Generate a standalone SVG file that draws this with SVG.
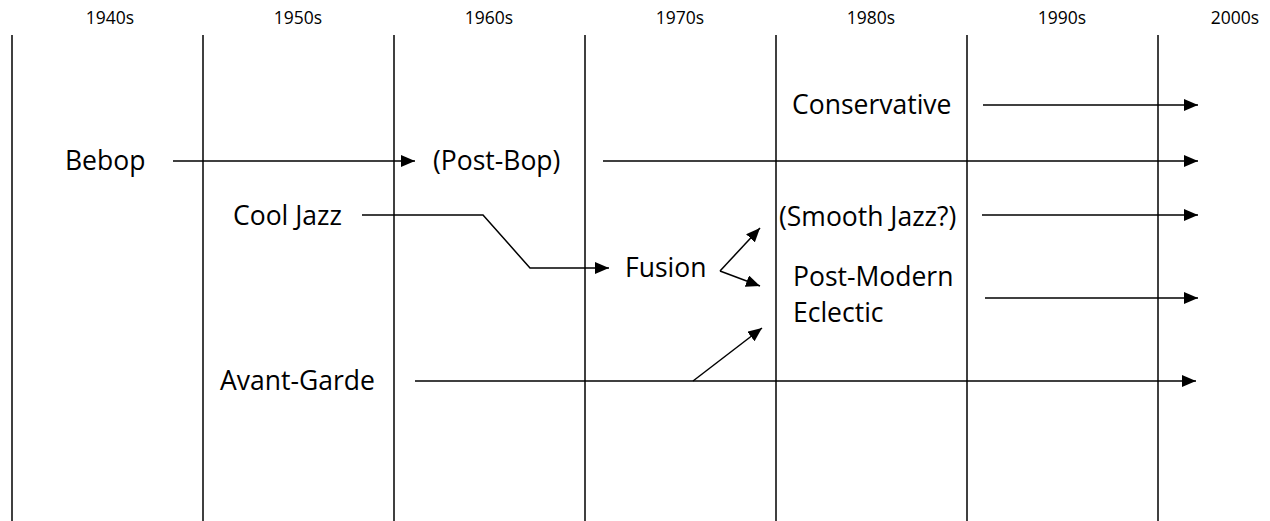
<svg xmlns="http://www.w3.org/2000/svg" width="1270" height="521" viewBox="0 0 1270 521">
<defs>
<marker id="ah" markerUnits="userSpaceOnUse" markerWidth="14" markerHeight="12" refX="14" refY="6" orient="auto">
<path d="M0,0 L14,6 L0,12 z" fill="#000"/>
</marker>
<style>
.grid line{stroke:#000;stroke-width:1.5}
.yr{font-family:"Open Sans","DejaVu Sans",sans-serif;font-size:17.5px;fill:#000;text-anchor:middle}
.lbl{font-family:"Open Sans","DejaVu Sans",sans-serif;font-size:26.5px;fill:#000}
.c{fill:none;stroke:#000;stroke-width:1.5}
.a{marker-end:url(#ah)}
</style>
</defs>
<rect width="1270" height="521" fill="#fff"/>
<g class="grid">
<line x1="12" y1="35" x2="12" y2="521"/>
<line x1="203" y1="35" x2="203" y2="521"/>
<line x1="394" y1="35" x2="394" y2="521"/>
<line x1="585" y1="35" x2="585" y2="521"/>
<line x1="776" y1="35" x2="776" y2="521"/>
<line x1="967" y1="35" x2="967" y2="521"/>
<line x1="1158" y1="35" x2="1158" y2="521"/>
</g>
<g id="years">
<text class="yr" x="110" y="24">1940s</text>
<text class="yr" x="298" y="24">1950s</text>
<text class="yr" x="489" y="24">1960s</text>
<text class="yr" x="680" y="24">1970s</text>
<text class="yr" x="871" y="24">1980s</text>
<text class="yr" x="1062" y="24">1990s</text>
<text class="yr" x="1235" y="24">2000s</text>
</g>
<g id="bebop"><text class="lbl" x="65" y="170">Bebop</text></g>
<g id="postbop"><text class="lbl" x="433" y="170">(Post-Bop)</text></g>
<g id="conservative"><text class="lbl" x="792" y="114">Conservative</text></g>
<g id="cooljazz"><text class="lbl" x="233" y="225">Cool Jazz</text></g>
<g id="smooth"><text class="lbl" x="779" y="226">(Smooth Jazz?)</text></g>
<g id="fusion"><text class="lbl" x="625" y="277">Fusion</text></g>
<g id="postmodern"><text class="lbl" x="793" y="286">Post-Modern</text><text class="lbl" x="793" y="322">Eclectic</text></g>
<g id="avantgarde"><text class="lbl" x="220" y="390">Avant-Garde</text></g>
<g id="connectors">
<line class="c a" x1="173" y1="161" x2="415" y2="161"/>
<line class="c a" x1="603" y1="161" x2="1198" y2="161"/>
<line class="c a" x1="983" y1="105" x2="1198" y2="105"/>
<polyline class="c a" points="362,215 483,215 530,268 609,268"/>
<line class="c a" x1="982" y1="215" x2="1198" y2="215"/>
<line class="c a" x1="720" y1="271" x2="760" y2="228"/>
<line class="c a" x1="720" y1="271" x2="760" y2="286"/>
<line class="c a" x1="985" y1="298" x2="1198" y2="298"/>
<line class="c a" x1="415" y1="381" x2="1196" y2="381"/>
<line class="c a" x1="693" y1="381" x2="762" y2="328"/>
</g>
</svg>
